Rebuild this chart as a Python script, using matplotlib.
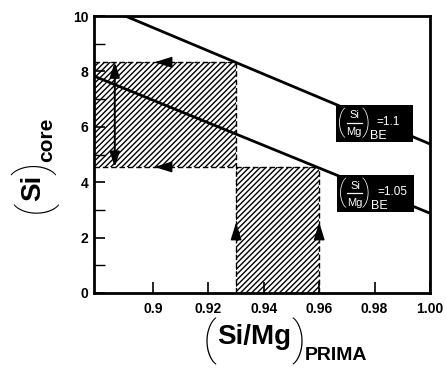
import matplotlib
matplotlib.use("Agg")
import matplotlib.pyplot as plt
from matplotlib.patches import Rectangle

plt.rcParams['font.family'] = ['Liberation Sans', 'DejaVu Sans']
plt.rcParams['hatch.linewidth'] = 1.0

# Si/Mg (bulk earth) = 1.1 and 1.05 lines
be110_x = [0.89, 1.0]
be110_y = [10.0, 5.38]
be105_x = [0.8787, 1.0]
be105_y = [7.83, 2.88]
be_labels = ["=1.1", "=1.05"]
be_label_pos = [(0.98, 6.12), (0.9803, 3.59)]

# shaded ranges
prima_range = [0.93, 0.96]
core_range = [4.55, 8.33]
xmin, xmax = 0.8787, 1.0
ymin, ymax = 0, 10

xticks = [0.9, 0.92, 0.94, 0.96, 0.98, 1.00]
xticklabels = ["0.9", "0.92", "0.94", "0.96", "0.98", "1.00"]
yticks = [0, 2, 4, 6, 8, 10]
yminor = [1, 3, 5, 7, 9]

W, H = 446, 369
AX_W, AX_H = 336, 277
fig = plt.figure(figsize=(W / 100, H / 100), dpi=100)
ax = fig.add_axes([94 / W, 1 - 293 / H, AX_W / W, AX_H / H])
ax.set_xlim(xmin, xmax)
ax.set_ylim(ymin, ymax)
sx = (xmax - xmin) / AX_W   # data units per pixel
sy = (ymax - ymin) / AX_H

# hatched regions
hatch = '//////'
ax.add_patch(Rectangle((xmin, core_range[0]), prima_range[0] - xmin, core_range[1] - core_range[0],
                       facecolor='white', edgecolor='black', hatch=hatch, lw=0, zorder=1))
ax.add_patch(Rectangle((prima_range[0], 0), prima_range[1] - prima_range[0], core_range[0],
                       facecolor='white', edgecolor='black', hatch=hatch, lw=0, zorder=1))

# dashed borders
dash = dict(color='black', lw=1.0, ls=(0, (4, 2)), zorder=2)
ax.plot([xmin, prima_range[0]], [core_range[1], core_range[1]], **dash)
ax.plot([xmin, prima_range[1]], [core_range[0], core_range[0]], **dash)
ax.plot([prima_range[0], prima_range[0]], [0, core_range[1]], **dash)
ax.plot([prima_range[1], prima_range[1]], [0, core_range[0]], **dash)

# lines
ax.plot(be110_x, be110_y, color='black', lw=2.0, zorder=3, solid_capstyle='butt')
ax.plot(be105_x, be105_y, color='black', lw=2.0, zorder=3, solid_capstyle='butt')

# arrows
arr = dict(arrowstyle='-|>,head_length=0.9,head_width=0.28', color='black', lw=1.0,
           mutation_scale=12, shrinkA=0, shrinkB=0)
ax.annotate('', xy=(0.9005, core_range[1]), xytext=(0.9055, core_range[1]), arrowprops=arr, zorder=4)
ax.annotate('', xy=(0.9005, core_range[0]), xytext=(0.9055, core_range[0]), arrowprops=arr, zorder=4)
ax.annotate('', xy=(prima_range[0], 2.55), xytext=(prima_range[0], 2.1), arrowprops=arr, zorder=4)
ax.annotate('', xy=(prima_range[1], 2.55), xytext=(prima_range[1], 2.1), arrowprops=arr, zorder=4)
ax.annotate('', xy=(0.8862, core_range[1]), xytext=(0.8862, core_range[0]),
            arrowprops=dict(arrowstyle='<|-|>,head_length=0.9,head_width=0.3', color='black',
                            lw=1.4, mutation_scale=10, shrinkA=0, shrinkB=0), zorder=4)

# boxed labels; offsets given in pixels from the box centre
thin = ['Roboto', 'Lato', 'Noto Sans', 'DejaVu Sans']
for lab, (lx, ly) in zip(be_labels, be_label_pos):
    def at(dx, dy):
        return (lx + dx * sx, ly - dy * sy)
    ax.add_patch(Rectangle(at(-38.5, 18.5), 77 * sx, 37 * sy, facecolor='black',
                           edgecolor='none', zorder=5))
    kw = dict(color='white', ha='center', va='center', zorder=6)
    ax.text(*at(-33, -1), '(', fontsize=21, family=thin, fontweight='light', **kw)
    ax.text(*at(-20.5, -8), 'Si', fontsize=8, **kw)
    ax.text(*at(-20.5, 9), 'Mg', fontsize=8, **kw)
    ax.text(*at(-9, -1), ')', fontsize=21, family=thin, fontweight='light', **kw)
    ax.text(*at(4, 12.5), 'BE', fontsize=9, **kw)
    ax.text(*at(2, -1.5), lab, fontsize=8.5, color='white', ha='left', va='center', zorder=6)
    x0, y0 = at(-28, -0.5)
    x1, y1 = at(-13, -0.5)
    ax.plot([x0, x1], [y0, y1], color='white', lw=0.9, zorder=6)

ax.set_xticks(xticks)
ax.set_xticklabels(xticklabels)
ax.set_yticks(yticks)
ax.set_yticks(yminor, minor=True)
ax.tick_params(direction='in', length=8, width=1.2, labelsize=10, pad=4)
ax.tick_params(axis='x', pad=6.5)
ax.tick_params(axis='y', which='minor', direction='in', length=8, width=1.0)
for t in ax.get_xticklabels() + ax.get_yticklabels():
    t.set_fontweight('bold')
for s in ax.spines.values():
    s.set_linewidth(2.0)

# axis titles built from pieces
def ftext(x, y, s, **k):
    fig.text(x / W, 1 - y / H, s, ha='center', va='center', **k)

ftext(210, 341, '(', fontsize=34, family=thin, fontweight='light')
ftext(254, 337, 'Si/Mg', fontsize=20, fontweight='bold')
ftext(299, 341, ')', fontsize=34, family=thin, fontweight='light')
ftext(336, 355, 'PRIMA', fontsize=14, fontweight='bold')

ftext(34, 206, '(', fontsize=32, family=thin, fontweight='light', rotation=90)
ftext(33, 188, 'Si', fontsize=20, fontweight='bold', rotation=90)
ftext(34, 168, ')', fontsize=32, family=thin, fontweight='light', rotation=90)
ftext(47, 140, 'core', fontsize=15, fontweight='bold', rotation=90)

fig.savefig("out.png", dpi=100)
